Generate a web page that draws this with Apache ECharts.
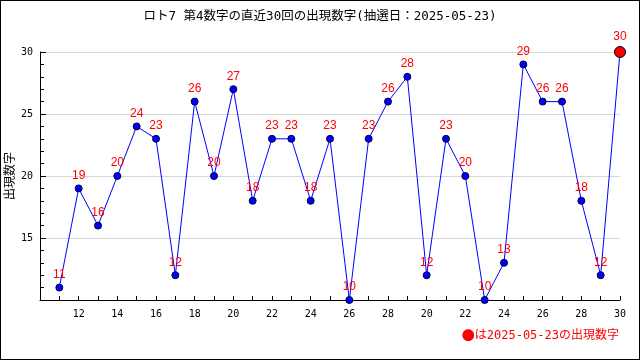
<!DOCTYPE html>
<html><head><meta charset="utf-8">
<script src="https://cdn.jsdelivr.net/npm/echarts@6/dist/echarts.min.js"></script>
<style>html,body{margin:0;padding:0;background:#fff}#c{width:640px;height:360px;box-sizing:border-box;border:1px solid #000}</style>
</head><body><div id="c"></div>
<script>
const titleText = 'ロト7 第4数字の直近30回の出現数字(抽選日：2025-05-23)';
const yName = '出現数字';
const noteMark = '●';
const noteText = 'は2025-05-23の出現数字';
const xLabels = ['11','12','13','14','15','16','17','18','19','20','21','22','23','24','25','26','27','28','29','20','21','22','23','24','25','26','27','28','29','30'];
const values = [11,19,16,20,24,23,12,26,20,27,18,23,23,18,23,10,23,26,28,12,23,20,10,13,29,26,26,18,12,30];
const yTicks = [10,15,20,25,30];

const mono = '"DejaVu Sans Mono", "Noto Sans CJK JP", monospace';
const cjk = '"Noto Sans CJK JP", sans-serif';
const n = values.length;
const data = values.map((v,i)=>{
  const p = {value:[i+1,v]};
  if(i===n-1){p.symbolSize=11;p.itemStyle={color:'#ff0000',borderColor:'#000',borderWidth:1};}
  return p;
});
const chart = echarts.init(document.getElementById('c'));
chart.setOption({
  animation:false,
  title:{text:titleText,left:'center',top:4,textStyle:{fontFamily:mono,fontSize:12.5,fontWeight:'normal',color:'#000'}},
  grid:{left:39,right:19,top:51,bottom:59,containLabel:false,outerBoundsMode:'none'},
  xAxis:{type:'value',min:0,max:n,interval:1,
    axisLine:{show:true,lineStyle:{color:'#000'}},
    axisTick:{show:true,inside:true,length:4,lineStyle:{color:'#000'}},
    splitLine:{show:false},
    axisLabel:{showMinLabel:false,fontFamily:mono,fontSize:10,color:'#000',margin:9,
      formatter:(v)=>{ if(v<1||v>n||v%2!==0) return ''; return xLabels[v-1]; }}
  },
  yAxis:{type:'value',min:yTicks[0],max:yTicks[yTicks.length-1],interval:5,
    name:yName,nameLocation:'middle',nameGap:25,nameRotate:90,nameMoveOverlap:false,
    nameTextStyle:{fontFamily:cjk,fontSize:12,color:'#000'},
    axisLine:{show:true,lineStyle:{color:'#000'}},
    axisTick:{show:true,inside:true,length:6,lineStyle:{color:'#000'}},
    minorTick:{show:true,splitNumber:5,length:4,lineStyle:{color:'#000'}},
    splitLine:{show:true,lineStyle:{color:'#d8d8d8'}},
    axisLabel:{showMinLabel:false,fontFamily:mono,fontSize:10,color:'#000',margin:7}
  },
  series:[{type:'line',data:data,symbol:'circle',symbolSize:7,
    lineStyle:{color:'#0000ff',width:1},
    itemStyle:{color:'#0000ff',borderColor:'#000033',borderWidth:1},
    label:{show:true,position:'top',distance:3,color:'#ff0000',fontFamily:'"Liberation Sans", Arial, sans-serif',fontSize:12,
      formatter:(p)=>p.value[1]}
  }],
  graphic:[{type:'text',right:20,top:328,style:{
    text:'{m|'+noteMark+'}{t|'+noteText+'}',
    rich:{m:{fontFamily:cjk,fontSize:13,fill:'#ff0000',color:'#ff0000'},
          t:{fontFamily:mono,fontSize:12,fill:'#ff0000',color:'#ff0000'}},
    fill:'#ff0000'}}]
});
</script></body></html>
